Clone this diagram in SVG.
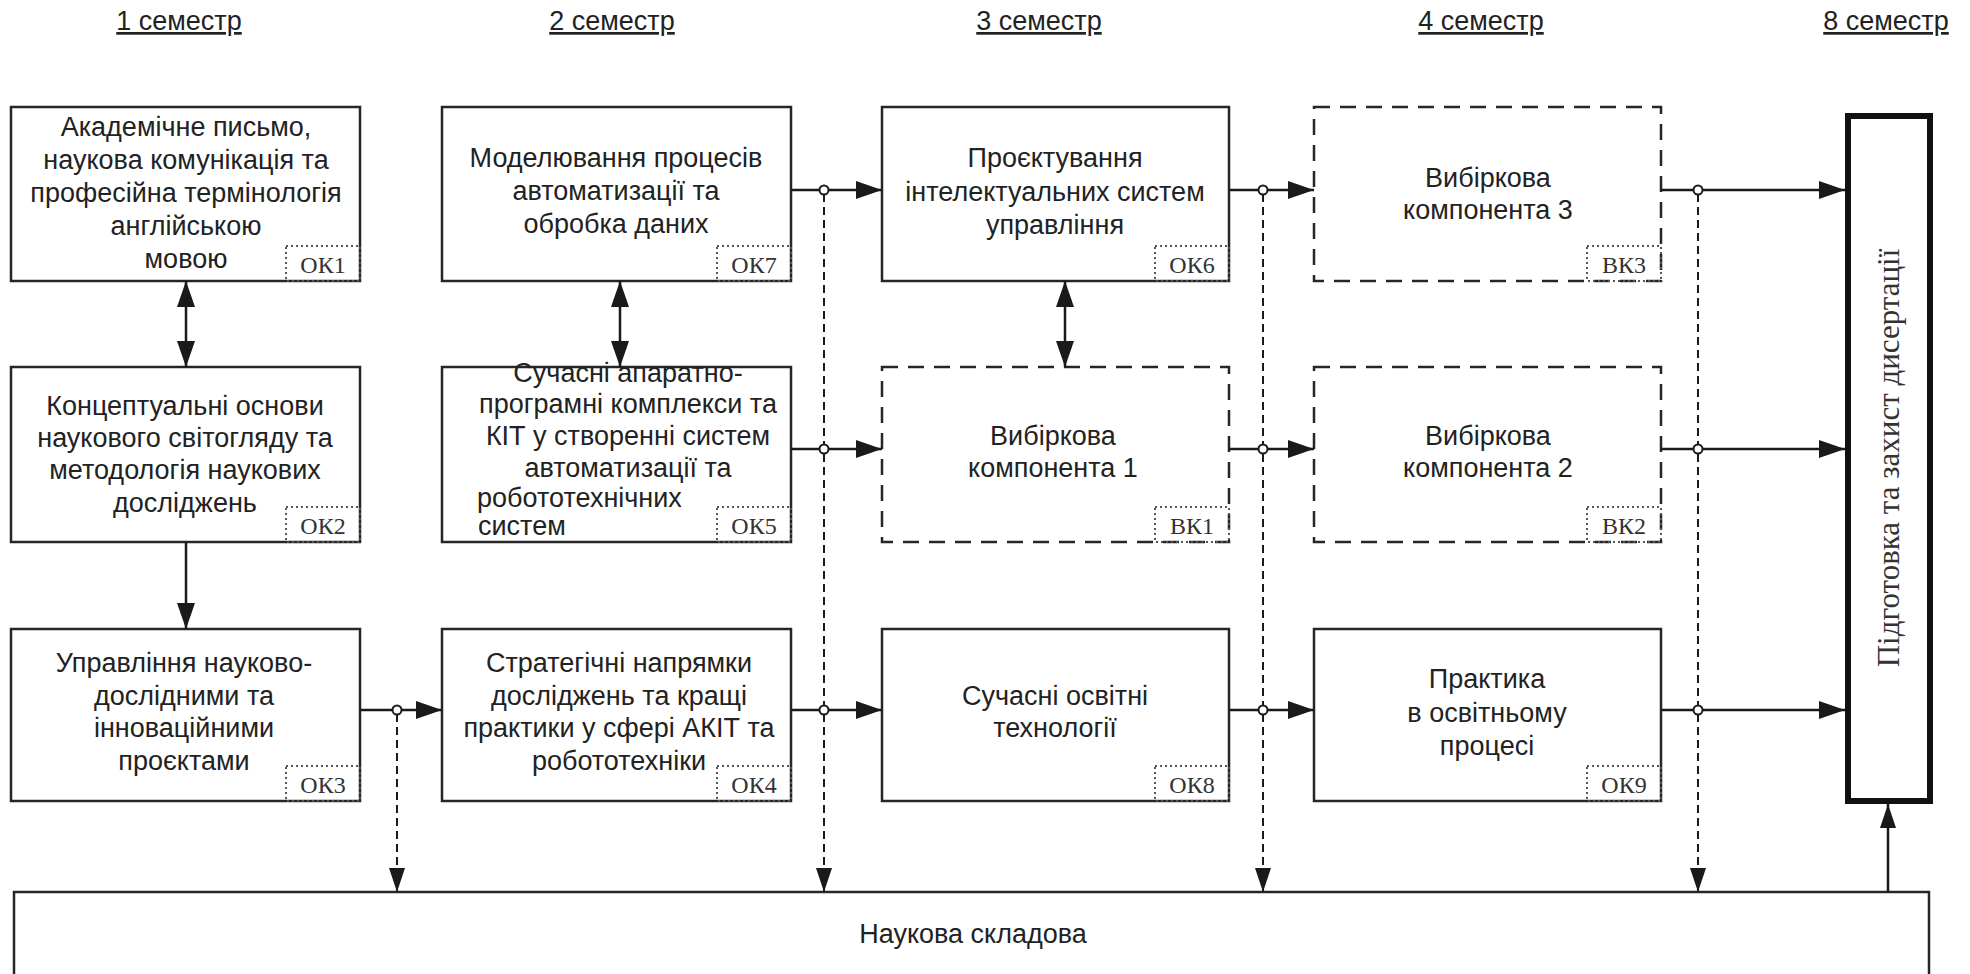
<svg xmlns="http://www.w3.org/2000/svg" width="1970" height="974" viewBox="0 0 1970 974">
<defs>
<marker id="ah" markerUnits="userSpaceOnUse" markerWidth="26" markerHeight="18" refX="26" refY="9" orient="auto-start-reverse">
<path d="M0,0 L26,9 L0,18 z" fill="#1a1a1a"/>
</marker>
<marker id="ahs" markerUnits="userSpaceOnUse" markerWidth="24" markerHeight="16" refX="24" refY="8" orient="auto">
<path d="M0,0 L24,8 L0,16 z" fill="#1a1a1a"/>
</marker>
</defs>
<style>
.box{fill:#fff;stroke:#262626;stroke-width:2.5}
.dbox{fill:#fff;stroke:#262626;stroke-width:2.5;stroke-dasharray:16 10}
.lab{fill:none;stroke:#555;stroke-width:2;stroke-dasharray:2 3}
.t{font-family:"Liberation Sans",Arial,sans-serif;font-size:27px;fill:#222;text-anchor:middle}
.tl{font-family:"Liberation Sans",Arial,sans-serif;font-size:27px;fill:#222}
.s{font-family:"Liberation Serif","Times New Roman",serif;font-size:24px;fill:#333;text-anchor:middle}
.h{font-family:"Liberation Sans",Arial,sans-serif;font-size:27px;fill:#222;text-anchor:middle;text-decoration:underline}
.ln{fill:none;stroke:#1a1a1a;stroke-width:2.5}
.dl{fill:none;stroke:#1a1a1a;stroke-width:2;stroke-dasharray:8 5}
.j{fill:#fff;stroke:#1a1a1a;stroke-width:2}
</style>
<rect width="1970" height="974" fill="#fff"/>

<g id="headers">
<text class="h" x="179" y="30">1 семестр</text>
<text class="h" x="612" y="30">2 семестр</text>
<text class="h" x="1039" y="30">3 семестр</text>
<text class="h" x="1481" y="30">4 семестр</text>
<text class="h" x="1886" y="30">8 семестр</text>
</g>

<g id="OK1">
<rect class="box" x="11" y="107" width="349" height="174"/>
<rect class="lab" x="286" y="246" width="74" height="35"/>
<text class="s" x="323" y="273">ОК1</text>
<text class="t" x="186" y="136">Академічне письмо,</text>
<text class="t" x="186" y="169">наукова комунікація та</text>
<text class="t" x="186" y="202">професійна термінологія</text>
<text class="t" x="186" y="235">англійською</text>
<text class="t" x="186" y="268">мовою</text>
</g>

<g id="OK7">
<rect class="box" x="442" y="107" width="349" height="174"/>
<rect class="lab" x="717" y="246" width="74" height="35"/>
<text class="s" x="754" y="273">ОК7</text>
<text class="t" x="616" y="167">Моделювання процесів</text>
<text class="t" x="616" y="200">автоматизації та</text>
<text class="t" x="616" y="233">обробка даних</text>
</g>

<g id="OK6">
<rect class="box" x="882" y="107" width="347" height="174"/>
<rect class="lab" x="1155" y="246" width="74" height="35"/>
<text class="s" x="1192" y="273">ОК6</text>
<text class="t" x="1055" y="167">Проєктування</text>
<text class="t" x="1055" y="201">інтелектуальних систем</text>
<text class="t" x="1055" y="234">управління</text>
</g>

<g id="BK3">
<rect class="dbox" x="1314" y="107" width="347" height="174"/>
<rect class="lab" x="1587" y="246" width="74" height="35"/>
<text class="s" x="1624" y="273">ВК3</text>
<text class="t" x="1488" y="187">Вибіркова</text>
<text class="t" x="1488" y="219">компонента 3</text>
</g>

<g id="OK2">
<rect class="box" x="11" y="367" width="349" height="175"/>
<rect class="lab" x="286" y="507" width="74" height="35"/>
<text class="s" x="323" y="534">ОК2</text>
<text class="t" x="185" y="415">Концептуальні основи</text>
<text class="t" x="185" y="447">наукового світогляду та</text>
<text class="t" x="185" y="479">методологія наукових</text>
<text class="t" x="185" y="512">досліджень</text>
</g>

<g id="OK5">
<rect class="box" x="442" y="367" width="349" height="175"/>
<rect class="lab" x="717" y="507" width="74" height="35"/>
<text class="s" x="754" y="534">ОК5</text>
<text class="t" x="628" y="382">Сучасні апаратно-</text>
<text class="t" x="628" y="413">програмні комплекси та</text>
<text class="t" x="628" y="445">КІТ у створенні систем</text>
<text class="t" x="628" y="477">автоматизації та</text>
<text class="tl" x="477" y="507">робототехнічних</text>
<text class="tl" x="478" y="535">систем</text>
</g>

<g id="BK1">
<rect class="dbox" x="882" y="367" width="347" height="175"/>
<rect class="lab" x="1155" y="507" width="74" height="35"/>
<text class="s" x="1192" y="534">ВК1</text>
<text class="t" x="1053" y="445">Вибіркова</text>
<text class="t" x="1053" y="477">компонента 1</text>
</g>

<g id="BK2">
<rect class="dbox" x="1314" y="367" width="347" height="175"/>
<rect class="lab" x="1587" y="507" width="74" height="35"/>
<text class="s" x="1624" y="534">ВК2</text>
<text class="t" x="1488" y="445">Вибіркова</text>
<text class="t" x="1488" y="477">компонента 2</text>
</g>

<g id="OK3">
<rect class="box" x="11" y="629" width="349" height="172"/>
<rect class="lab" x="286" y="766" width="74" height="35"/>
<text class="s" x="323" y="793">ОК3</text>
<text class="t" x="184" y="672">Управління науково-</text>
<text class="t" x="184" y="705">дослідними та</text>
<text class="t" x="184" y="737">інноваційними</text>
<text class="t" x="184" y="770">проєктами</text>
</g>

<g id="OK4">
<rect class="box" x="442" y="629" width="349" height="172"/>
<rect class="lab" x="717" y="766" width="74" height="35"/>
<text class="s" x="754" y="793">ОК4</text>
<text class="t" x="619" y="672">Стратегічні напрямки</text>
<text class="t" x="619" y="705">досліджень та кращі</text>
<text class="t" x="619" y="737">практики у сфері АКІТ та</text>
<text class="t" x="619" y="770">робототехніки</text>
</g>

<g id="OK8">
<rect class="box" x="882" y="629" width="347" height="172"/>
<rect class="lab" x="1155" y="766" width="74" height="35"/>
<text class="s" x="1192" y="793">ОК8</text>
<text class="t" x="1055" y="705">Сучасні освітні</text>
<text class="t" x="1055" y="737">технології</text>
</g>

<g id="OK9">
<rect class="box" x="1314" y="629" width="347" height="172"/>
<rect class="lab" x="1587" y="766" width="74" height="35"/>
<text class="s" x="1624" y="793">ОК9</text>
<text class="t" x="1487" y="688">Практика</text>
<text class="t" x="1487" y="722">в освітньому</text>
<text class="t" x="1487" y="755">процесі</text>
</g>

<g id="thesis">
<rect x="1848" y="116" width="82" height="685" fill="#fff" stroke="#111" stroke-width="6"/>
<text transform="translate(1899,458) rotate(-90)" font-family="Liberation Serif, Times New Roman, serif" font-size="31" fill="#333" text-anchor="middle">Підготовка та захист дисертації</text>
</g>

<g id="science">
<rect class="box" x="14" y="892" width="1915" height="110"/>
<text class="t" x="973" y="943">Наукова складова</text>
</g>

<g id="connectors">
<path class="dl" d="M397,714 V892" marker-end="url(#ahs)"/>
<path class="dl" d="M824,194 V892" marker-end="url(#ahs)"/>
<path class="dl" d="M1263,194 V892" marker-end="url(#ahs)"/>
<path class="dl" d="M1698,194 V892" marker-end="url(#ahs)"/>

<path class="ln" d="M791,190 H882" marker-end="url(#ah)"/>
<path class="ln" d="M1229,190 H1314" marker-end="url(#ah)"/>
<path class="ln" d="M1661,190 H1845" marker-end="url(#ah)"/>
<path class="ln" d="M791,449 H882" marker-end="url(#ah)"/>
<path class="ln" d="M1229,449 H1314" marker-end="url(#ah)"/>
<path class="ln" d="M1661,449 H1845" marker-end="url(#ah)"/>
<path class="ln" d="M360,710 H442" marker-end="url(#ah)"/>
<path class="ln" d="M791,710 H882" marker-end="url(#ah)"/>
<path class="ln" d="M1229,710 H1314" marker-end="url(#ah)"/>
<path class="ln" d="M1661,710 H1845" marker-end="url(#ah)"/>

<path class="ln" d="M186,281 V367" marker-start="url(#ah)" marker-end="url(#ah)"/>
<path class="ln" d="M620,281 V367" marker-start="url(#ah)" marker-end="url(#ah)"/>
<path class="ln" d="M1065,281 V367" marker-start="url(#ah)" marker-end="url(#ah)"/>
<path class="ln" d="M186,542 V629" marker-end="url(#ah)"/>
<path class="ln" d="M1888,892 V804" stroke-width="2" marker-end="url(#ahs)"/>

<circle class="j" cx="824" cy="190" r="4.5"/>
<circle class="j" cx="1263" cy="190" r="4.5"/>
<circle class="j" cx="1698" cy="190" r="4.5"/>
<circle class="j" cx="824" cy="449" r="4.5"/>
<circle class="j" cx="1263" cy="449" r="4.5"/>
<circle class="j" cx="1698" cy="449" r="4.5"/>
<circle class="j" cx="397" cy="710" r="4.5"/>
<circle class="j" cx="824" cy="710" r="4.5"/>
<circle class="j" cx="1263" cy="710" r="4.5"/>
<circle class="j" cx="1698" cy="710" r="4.5"/>
</g>
</svg>
